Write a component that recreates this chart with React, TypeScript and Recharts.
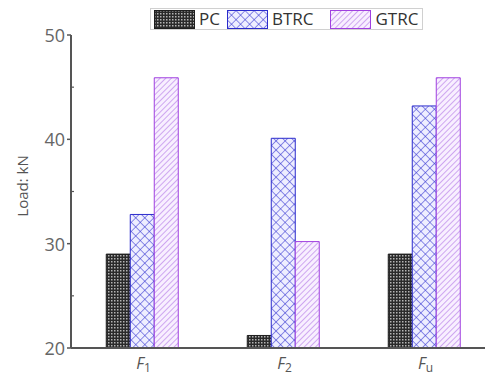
import React from "react";
import { BarChart, Bar, XAxis, YAxis, Label } from "recharts";

const categories = ["1", "2", "u"];
const pcLoad = [29.0, 21.2, 29.0];
const btrcLoad = [32.8, 40.1, 43.2];
const gtrcLoad = [45.9, 30.2, 45.9];
const yTicks = [20, 25, 30, 35, 40, 45, 50];
const majorTicks = [20, 30, 40, 50];

const data = categories.map((c, i) => ({
  name: c,
  PC: pcLoad[i],
  BTRC: btrcLoad[i],
  GTRC: gtrcLoad[i],
}));

const FONT = "'Open Sans', 'DejaVu Sans', sans-serif";
const AXIS = "#555";

const series = [
  { key: "PC", stroke: "#1e1e1e" },
  { key: "BTRC", stroke: "#2b2bcc" },
  { key: "GTRC", stroke: "#a040e0" },
];

// hatch fills, prefixed so the legend swatches can carry their own copy
function Patterns({ prefix }: { prefix: string }) {
  return (
    <defs>
      <pattern id={`${prefix}PC`} width="3" height="3" patternUnits="userSpaceOnUse">
        <rect width="3" height="3" fill="#2a2a2a" />
        <rect width="1.5" height="1.5" fill="#b4b4b4" />
      </pattern>
      <pattern
        id={`${prefix}BTRC`}
        width="6.4"
        height="6.4"
        patternUnits="userSpaceOnUse"
        patternTransform="rotate(45)"
      >
        <rect width="6.4" height="6.4" fill="#eeeeff" />
        <line x1="0" y1="0" x2="6.4" y2="0" stroke="#3a3ad2" strokeWidth="1.1" />
        <line x1="0" y1="0" x2="0" y2="6.4" stroke="#3a3ad2" strokeWidth="1.1" />
      </pattern>
      <pattern
        id={`${prefix}GTRC`}
        width="4"
        height="4"
        patternUnits="userSpaceOnUse"
        patternTransform="rotate(45)"
      >
        <rect width="4" height="4" fill="#f8efff" />
        <line x1="0" y1="0" x2="0" y2="4" stroke="#b277e6" strokeWidth="1.2" />
      </pattern>
    </defs>
  );
}

function YTick({ x, y, payload }: any) {
  const v = payload.value;
  const major = majorTicks.includes(v);
  return (
    <g>
      {major ? (
        <>
          <line x1={x - 4} x2={x} y1={y} y2={y} stroke={AXIS} strokeWidth={1.5} />
          <text
            x={x - 6}
            y={y}
            textAnchor="end"
            dominantBaseline="central"
            fill="#666"
            fontSize={18}
            fontFamily={FONT}
          >
            {v}
          </text>
        </>
      ) : (
        <line x1={x} x2={x + 3} y1={y} y2={y} stroke={AXIS} strokeWidth={1.2} />
      )}
    </g>
  );
}

function XTick({ x, y, payload }: any) {
  return (
    <text x={x + 2} y={y + 13} textAnchor="middle" fill="#555" fontFamily={FONT}>
      <tspan fontStyle="italic" fontSize={16}>
        F
      </tspan>
      <tspan fontSize={12} dy={3}>
        {payload.value}
      </tspan>
    </text>
  );
}

function ChartLegend() {
  const gaps = [7, 17, 4];
  return (
    <div
      style={{
        position: "absolute",
        left: 150,
        top: 8,
        height: 20,
        display: "flex",
        alignItems: "center",
        border: "1px solid #d0d0d0",
        paddingLeft: 3,
        fontFamily: FONT,
        fontSize: 17,
        color: "#333",
      }}
    >
      {series.map((s, i) => (
        <React.Fragment key={s.key}>
          <svg width={41} height={19} style={{ display: "block" }}>
            <Patterns prefix="lg" />
            <rect
              x={0.5}
              y={0.5}
              width={40}
              height={18}
              fill={`url(#lg${s.key})`}
              stroke={s.stroke}
              strokeWidth={1}
            />
          </svg>
          <span style={{ marginLeft: 4, marginRight: gaps[i], lineHeight: "20px" }}>
            {s.key}
          </span>
        </React.Fragment>
      ))}
    </div>
  );
}

export default function App() {
  return (
    <div
      style={{
        position: "absolute",
        left: 0,
        top: 0,
        width: 485,
        height: 380,
        overflow: "hidden",
        background: "#fff",
      }}
    >
      <BarChart
        width={500}
        height={380}
        data={data}
        margin={{ top: 35, right: 6, bottom: 0, left: 0 }}
        barCategoryGap="25%"
        barGap={0}
      >
        <Patterns prefix="ch" />
        <XAxis
          dataKey="name"
          height={32}
          tickLine={false}
          tick={<XTick />}
          axisLine={{ stroke: AXIS, strokeWidth: 2 }}
        />
        <YAxis
          width={71}
          domain={[20, 50]}
          ticks={yTicks}
          interval={0}
          allowDataOverflow
          tickLine={false}
          tickSize={0}
          tickMargin={0}
          tick={<YTick />}
          axisLine={{ stroke: AXIS, strokeWidth: 2 }}
        >
          <Label
            content={() => (
              <text
                x={22}
                y={186}
                transform="rotate(-90, 22, 186)"
                textAnchor="middle"
                dominantBaseline="central"
                fill="#555"
                fontSize={15}
                fontFamily={FONT}
              >
                Load: kN
              </text>
            )}
          />
        </YAxis>
        {series.map((s) => (
          <Bar
            key={s.key}
            dataKey={s.key}
            fill={`url(#ch${s.key})`}
            stroke={s.stroke}
            strokeWidth={1}
            isAnimationActive={false}
          />
        ))}
      </BarChart>
      <ChartLegend />
    </div>
  );
}
